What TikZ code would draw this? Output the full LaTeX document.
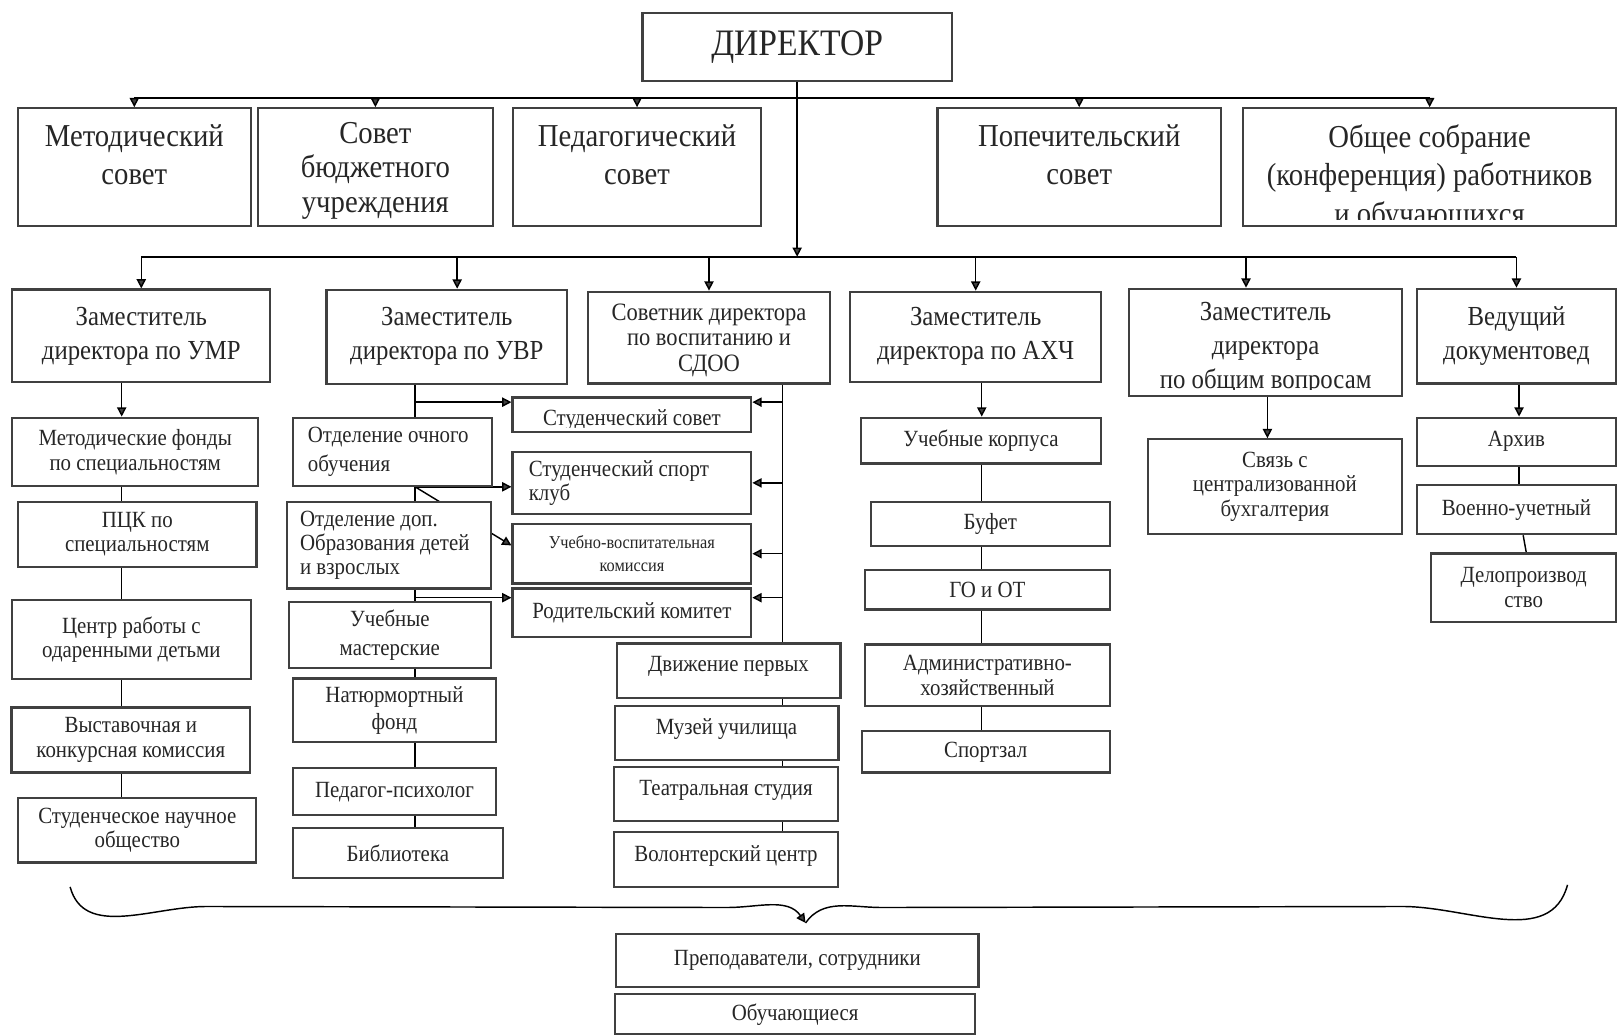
\documentclass[tikz,border=0pt]{standalone}
\usepackage{fontspec}
\setmainfont[FakeStretch=0.9]{Liberation Serif}
\usetikzlibrary{arrows.meta,backgrounds}

\tikzset{
  box/.style={draw=black!75, line width=0.6pt, fill=white, inner sep=0.5pt, align=center, text=black!85},
  leftbox/.style={box, align=left, execute at begin node={\spaceskip=0pt\relax}},
  txt/.style={align=center, inner sep=0pt, text depth=0pt, text=black!85},
  wire/.style={draw=black!75, line width=0.5pt},
  arr/.style={-{Triangle[length=0.9mm,width=0.9mm]}},
  dirfont/.style={font=\fontsize{10.3}{12}\selectfont},
  councilfont/.style={font=\fontsize{8.8}{10.6}\selectfont},
  deputyfont/.style={font=\fontsize{7.6}{9.4}\selectfont},
  advfont/.style={font=\fontsize{6.9}{7.1}\selectfont},
  unitfont/.style={font=\fontsize{6.4}{6.8}\selectfont},
  unitloose/.style={font=\fontsize{6.4}{8}\selectfont},
  tinyfont/.style={font=\fontsize{5}{6.3}\selectfont}
}

\begin{document}
\begin{tikzpicture}
\useasboundingbox (0,0) rectangle (15.68,-10.04);
%DIRECTOR
\node[box, dirfont, minimum width=3cm, minimum height=0.66cm] (dir) at (7.73,-0.455) {ДИРЕКТОР};
%---------------------------------------------------------
%councils
\node[box, councilfont, minimum width=2.255cm, minimum height=1.14cm, text depth=0.24cm] (met) at (1.3025,-1.62) {Методический\\совет};
\node[box, councilfont, font=\fontsize{8.8}{9.5}\selectfont, minimum width=2.28cm, minimum height=1.14cm, text depth=-1pt] (sovbu) at (3.64,-1.62) {Совет\\бюджетного\\учреждения};
\node[box, councilfont, minimum width=2.405cm, minimum height=1.14cm, text depth=0.24cm] (ped) at (6.1775,-1.62) {Педагогический\\совет};
\node[box, councilfont, minimum width=2.75cm, minimum height=1.14cm, text depth=0.24cm] (pop) at (10.465,-1.62) {Попечительский\\совет};
\node[box, minimum width=3.614cm, minimum height=1.14cm] (obs) at (13.863,-1.62) {};
\begin{scope}
  \clip (obs.north west) rectangle ([yshift=0.07cm]obs.south east); %text runs out of the box
  \node[txt, councilfont, anchor=south] (obs-t) at ([yshift=0.02cm]obs.south) {Общее собрание\\(конференция) работников\\и обучающихся};
\end{scope}
%---------------------------------------------------------
%deputies
\node[box, deputyfont, minimum width=2.5cm, minimum height=0.9cm] (zumr) at (1.37,-3.2575) {Заместитель\\директора по УМР};
\node[box, deputyfont, minimum width=2.334cm, minimum height=0.91cm] (zuvr) at (4.333,-3.265) {Заместитель\\директора по УВР};
\node[box, advfont, minimum width=2.35cm, minimum height=0.89cm, text depth=-1.8pt] (sov) at (6.875,-3.2735) {Советник директора\\по воспитанию и\\СДОО};
\node[box, deputyfont, minimum width=2.433cm, minimum height=0.873cm] (zahch) at (9.4615,-3.2655) {Заместитель\\директора по АХЧ};
\node[box, minimum width=2.645cm, minimum height=1.04cm] (zobsh) at (12.2725,-3.32) {};
\begin{scope}
  \clip (zobsh.north west) rectangle ([yshift=0.07cm]zobsh.south east); %last line cut
  \node[txt, deputyfont, anchor=south] (zobsh-t) at ([yshift=0.075cm]zobsh.south) {Заместитель\\директора\\по общим вопросам};
\end{scope}
\node[box, deputyfont, minimum width=1.93cm, minimum height=0.918cm] (doc) at (14.705,-3.259) {Ведущий\\документовед};
%---------------------------------------------------------
%UMR column
\node[box, unitfont, minimum width=2.388cm, minimum height=0.664cm] (mf) at (1.311,-4.382) {Методические фонды\\по специальностям};
\node[box, unitfont, minimum width=2.314cm, minimum height=0.631cm] (pck) at (1.331,-5.18) {ПЦК по\\специальностям};
\node[box, unitfont, minimum width=2.314cm, minimum height=0.766cm] (cent) at (1.274,-6.203) {Центр работы с\\одаренными детьми};
\node[box, unitfont, minimum width=2.313cm, minimum height=0.63cm] (vyst) at (1.2685,-7.175) {Выставочная и\\конкурсная комиссия};
\node[box, unitfont, minimum width=2.309cm, minimum height=0.627cm] (snob) at (1.3315,-8.0505) {Студенческое научное\\общество};
%UVR column
\node[leftbox, unitloose, text width=1.64cm, inner xsep=0.145cm, minimum height=0.66cm] (och) at (3.805,-4.38) {Отделение очного\\обучения};
\node[leftbox, unitfont, font=\fontsize{6.4}{6.7}\selectfont, text width=1.72cm, inner xsep=0.13cm, minimum height=0.84cm] (dop) at (3.77,-5.286) {Отделение доп.\\Образования детей\\и взрослых};
\node[box, unitloose, minimum width=1.96cm, minimum height=0.644cm] (uchm) at (3.78,-6.158) {Учебные\\мастерские};
\node[box, unitloose, font=\fontsize{6.4}{7.4}\selectfont, minimum width=1.97cm, minimum height=0.615cm] (nat) at (3.825,-6.8875) {Натюрмортный\\фонд};
\node[box, unitfont, minimum width=1.97cm, minimum height=0.455cm] (pp) at (3.825,-7.6775) {Педагог-психолог};
\node[box, unitfont, minimum width=2.036cm, minimum height=0.485cm] (bib) at (3.858,-8.2725) {Библиотека};
%student bodies
\node[box, minimum width=2.315cm, minimum height=0.333cm] (ss) at (6.1275,-4.0205) {};
\begin{scope}
  \clip (ss.north west) rectangle ([yshift=0.055cm]ss.south east);
  \node[txt, unitfont, anchor=south] (ss-t) at ([yshift=0.06cm]ss.south) {Студенческий совет};
\end{scope}
\node[leftbox, unitfont, text width=2cm, inner xsep=0.1575cm, minimum height=0.605cm] (ssk) at (6.1275,-4.6825) {Студенческий спорт\\клуб};
\node[box, tinyfont, minimum width=2.315cm, minimum height=0.578cm] (uvk) at (6.1275,-5.369) {Учебно-воспитательная\\комиссия};
\node[box, unitfont, minimum width=2.315cm, minimum height=0.469cm] (rk) at (6.1275,-5.9405) {Родительский комитет};
%SDOO column
\node[box, unitfont, minimum width=2.17cm, minimum height=0.525cm, text depth=3.5pt] (dv) at (7.065,-6.5025) {Движение первых};
\node[box, unitfont, minimum width=2.17cm, minimum height=0.522cm, text depth=3.5pt] (muz) at (7.045,-7.109) {Музей училища};
\node[box, unitfont, minimum width=2.17cm, minimum height=0.524cm, text depth=3.5pt] (teat) at (7.04,-7.698) {Театральная студия};
\node[box, unitfont, minimum width=2.17cm, minimum height=0.53cm, text depth=3.5pt] (vol) at (7.04,-8.335) {Волонтерский центр};
%AHCH column
\node[box, unitfont, minimum width=2.331cm, minimum height=0.444cm] (uk) at (9.5125,-4.272) {Учебные корпуса};
\node[box, unitfont, minimum width=2.315cm, minimum height=0.43cm] (buf) at (9.6025,-5.081) {Буфет};
\node[box, unitfont, minimum width=2.37cm, minimum height=0.382cm] (go) at (9.575,-5.719) {ГО и ОТ};
\node[box, unitfont, minimum width=2.37cm, minimum height=0.598cm] (adm) at (9.575,-6.549) {Административно-\\хозяйственный};
\node[box, unitfont, minimum width=2.403cm, minimum height=0.4cm] (sport) at (9.5585,-7.29) {Спортзал};
%general questions
\node[box, unitfont, minimum width=2.465cm, minimum height=0.92cm] (svz) at (12.3625,-4.72) {Связь с\\централизованной\\бухгалтерия};
%document column
\node[box, unitfont, minimum width=1.93cm, minimum height=0.466cm] (arh) at (14.705,-4.283) {Архив};
\node[box, unitfont, minimum width=1.93cm, minimum height=0.476cm] (voen) at (14.705,-4.942) {Военно-учетный};
\node[box, unitfont, minimum width=1.79cm, minimum height=0.663cm] (delo) at (14.775,-5.6985) {Делопроизвод\\ство};
%bottom
\node[box, unitfont, minimum width=3.513cm, minimum height=0.51cm] (prep) at (7.7315,-9.315) {Преподаватели, сотрудники};
\node[box, unitfont, minimum width=3.491cm, minimum height=0.39cm] (obuch) at (7.7105,-9.835) {Обучающиеся};
%---------------------------------------------------------
%connectors, behind the boxes
\coordinate (topbus) at (0,-0.95);
\coordinate (bus2) at (0,-2.49);
\coordinate (umr-x) at (1.18,0);
\coordinate (uvr-x) at (4.025,0);
\coordinate (sov-x) at (7.59,0);
\coordinate (ahch-x) at (9.52,0);
\coordinate (obsh-x) at (12.29,0);
\coordinate (doc-x) at (14.73,0);
\coordinate (ss-in) at ([yshift=-0.056cm]ss.north west);
\coordinate (ss-out) at ([yshift=-0.056cm]ss.north east);
\coordinate (rk-in) at ([yshift=-0.1cm]rk.north west);
\coordinate (rk-out) at ([yshift=-0.1cm]rk.north east);
\begin{scope}[on background layer, wire]
\draw[arr] (dir.south) -- (dir.south |- bus2);
\draw (met.north |- topbus) -- (obs.north |- topbus);
\foreach \n in {met,sovbu,ped,pop,obs}
  \draw[arr] (\n.north |- topbus) -- (\n.north);
\draw (zumr.north |- bus2) -- (doc.north |- bus2);
\foreach \n in {zumr,sov,zahch,doc}
  \draw[arr] (\n.north |- bus2) -- (\n.north);
\draw[arr] ([xshift=0.1cm]zuvr.north |- bus2) -- ([xshift=0.1cm]zuvr.north);
\draw[arr] ([xshift=-0.19cm]zobsh.north |- bus2) -- ([xshift=-0.19cm]zobsh.north);
%UMR
\draw[arr] (umr-x |- zumr.south) -- (umr-x |- mf.north);
\foreach \a/\b in {mf/pck,pck/cent,cent/vyst,vyst/snob}
  \draw (umr-x |- \a.south) -- (umr-x |- \b.north);
%UVR
\foreach \a/\b in {zuvr/och,och/dop,dop/uchm,uchm/nat,nat/pp,pp/bib}
  \draw (uvr-x |- \a.south) -- (uvr-x |- \b.north);
\draw[arr] (uvr-x |- ss-in) -- (ss-in);
\draw[arr] (uvr-x |- och.south) -- (ssk.west |- och.south); %along bottom of och
\draw[arr] (uvr-x |- och.south) -- ([yshift=0.08cm]uvk.west); %goes under dop
\draw[arr] (uvr-x |- rk-in) -- (rk-in);
%SDOO
\draw (sov-x |- sov.south) -- (sov-x |- dv.north);
\foreach \a/\b in {dv/muz,muz/teat,teat/vol}
  \draw (sov-x |- \a.south) -- (sov-x |- \b.north);
\draw[arr] (sov-x |- ss-out) -- (ss-out);
\draw[arr] (sov-x |- ssk.east) -- (ssk.east);
\draw[arr] (sov-x |- uvk.east) -- (uvk.east);
\draw[arr] (sov-x |- rk-out) -- (rk-out);
%AHCH
\draw[arr] (ahch-x |- zahch.south) -- (ahch-x |- uk.north);
\foreach \a/\b in {uk/buf,buf/go,go/adm,adm/sport}
  \draw (ahch-x |- \a.south) -- (ahch-x |- \b.north);
%general questions
\draw[arr] (obsh-x |- zobsh.south) -- (obsh-x |- svz.north);
%documents
\draw[arr] (doc-x |- doc.south) -- (doc-x |- arh.north);
\draw (doc-x |- arh.south) -- (doc-x |- voen.north);
\draw ([xshift=0.04cm]doc-x |- voen.south) -- ([xshift=0.07cm]doc-x |- delo.north);
%brace
\coordinate (br-l) at (0.68,-8.60);
\coordinate (br-r) at (15.20,-8.58);
\coordinate (br-tip) at ([xshift=0.08cm,yshift=0.1cm]prep.north);
\draw[arr] (br-l) to[out=-75, in=180] (2.0,-8.79) -- (7.05,-8.80) to[out=0, in=125] (br-tip);
\draw (br-tip) to[out=55, in=180] (8.55,-8.80) -- (13.6,-8.79) to[out=0, in=-105] (br-r);
\end{scope}
\end{tikzpicture}
\end{document}
